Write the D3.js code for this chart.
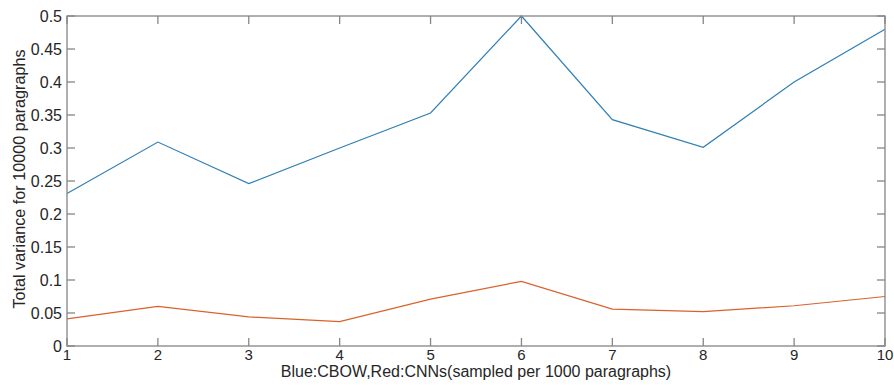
<!DOCTYPE html>
<html>
<head>
<meta charset="utf-8">
<script src="https://cdn.jsdelivr.net/npm/d3@7"></script>
<style>
  html, body { margin: 0; padding: 0; background: #fff; }
  svg { display: block; font-family: "Liberation Sans", Arial, sans-serif; }
</style>
</head>
<body>
<svg id="chart" width="894" height="385"></svg>
<script>
// Samples (per 1000 paragraphs)
const samples = [1, 2, 3, 4, 5, 6, 7, 8, 9, 10];
// Total variance, CBOW (blue)
const cbow = [0.231, 0.309, 0.246, 0.300, 0.353, 0.500, 0.343, 0.301, 0.400, 0.480];
// Total variance, CNNs (red)
const cnns = [0.041, 0.060, 0.044, 0.037, 0.071, 0.098, 0.056, 0.052, 0.061, 0.075];
const yTicks = [0, 0.05, 0.1, 0.15, 0.2, 0.25, 0.3, 0.35, 0.4, 0.45, 0.5];
const xTicks = [1, 2, 3, 4, 5, 6, 7, 8, 9, 10];

const svg = d3.select("#chart");
const m = { left: 67, top: 16, right: 885, bottom: 346 };

const x = d3.scaleLinear().domain([1, 10]).range([m.left, m.right]);
const y = d3.scaleLinear().domain([0, 0.5]).range([m.bottom, m.top]);

const axisColor = "#858585";
const textColor = "#262626";
const tickLen = 8;
const fmt = d3.format("~g");

// Series lines (drawn first so the box sits on top)
const line = d3.line().x((d, i) => x(samples[i])).y(d => y(d));
svg.append("path").datum(cbow).attr("d", line)
  .attr("fill", "none").attr("stroke", "#2f7fb5").attr("stroke-width", 1.2);
svg.append("path").datum(cnns).attr("d", line)
  .attr("fill", "none").attr("stroke", "#d9622b").attr("stroke-width", 1.2);

// Box around the plot area
const frame = svg.append("g").attr("stroke", axisColor).attr("stroke-width", 1.3).attr("fill", "none");
frame.append("rect")
  .attr("x", m.left).attr("y", m.top)
  .attr("width", m.right - m.left).attr("height", m.bottom - m.top);

// Inward ticks on all four sides
yTicks.forEach(v => {
  const py = y(v);
  frame.append("line").attr("x1", m.left).attr("x2", m.left + tickLen).attr("y1", py).attr("y2", py);
  frame.append("line").attr("x1", m.right).attr("x2", m.right - tickLen).attr("y1", py).attr("y2", py);
});
xTicks.forEach(v => {
  const px = x(v);
  frame.append("line").attr("x1", px).attr("x2", px).attr("y1", m.bottom).attr("y2", m.bottom - tickLen);
  frame.append("line").attr("x1", px).attr("x2", px).attr("y1", m.top).attr("y2", m.top + tickLen);
});

// Tick labels
svg.append("g").selectAll("text").data(yTicks).join("text")
  .attr("x", m.left - 5).attr("y", d => y(d)).attr("dy", "0.36em")
  .attr("text-anchor", "end").attr("font-size", 16).attr("fill", textColor)
  .text(d => fmt(d));
svg.append("g").selectAll("text").data(xTicks).join("text")
  .attr("x", d => x(d)).attr("y", m.bottom + 13.5)
  .attr("text-anchor", "middle").attr("font-size", 15).attr("fill", textColor)
  .text(d => fmt(d));

// Axis titles
svg.append("text")
  .attr("x", (m.left + m.right) / 2).attr("y", 377)
  .attr("text-anchor", "middle").attr("font-size", 16).attr("fill", textColor)
  .text("Blue:CBOW,Red:CNNs(sampled per 1000 paragraphs)");
svg.append("text")
  .attr("transform", `translate(25,${(m.top + m.bottom) / 2 - 2}) rotate(-90)`)
  .attr("text-anchor", "middle").attr("font-size", 16.2).attr("fill", textColor)
  .text("Total variance for 10000 paragraphs");
</script>
</body>
</html>
